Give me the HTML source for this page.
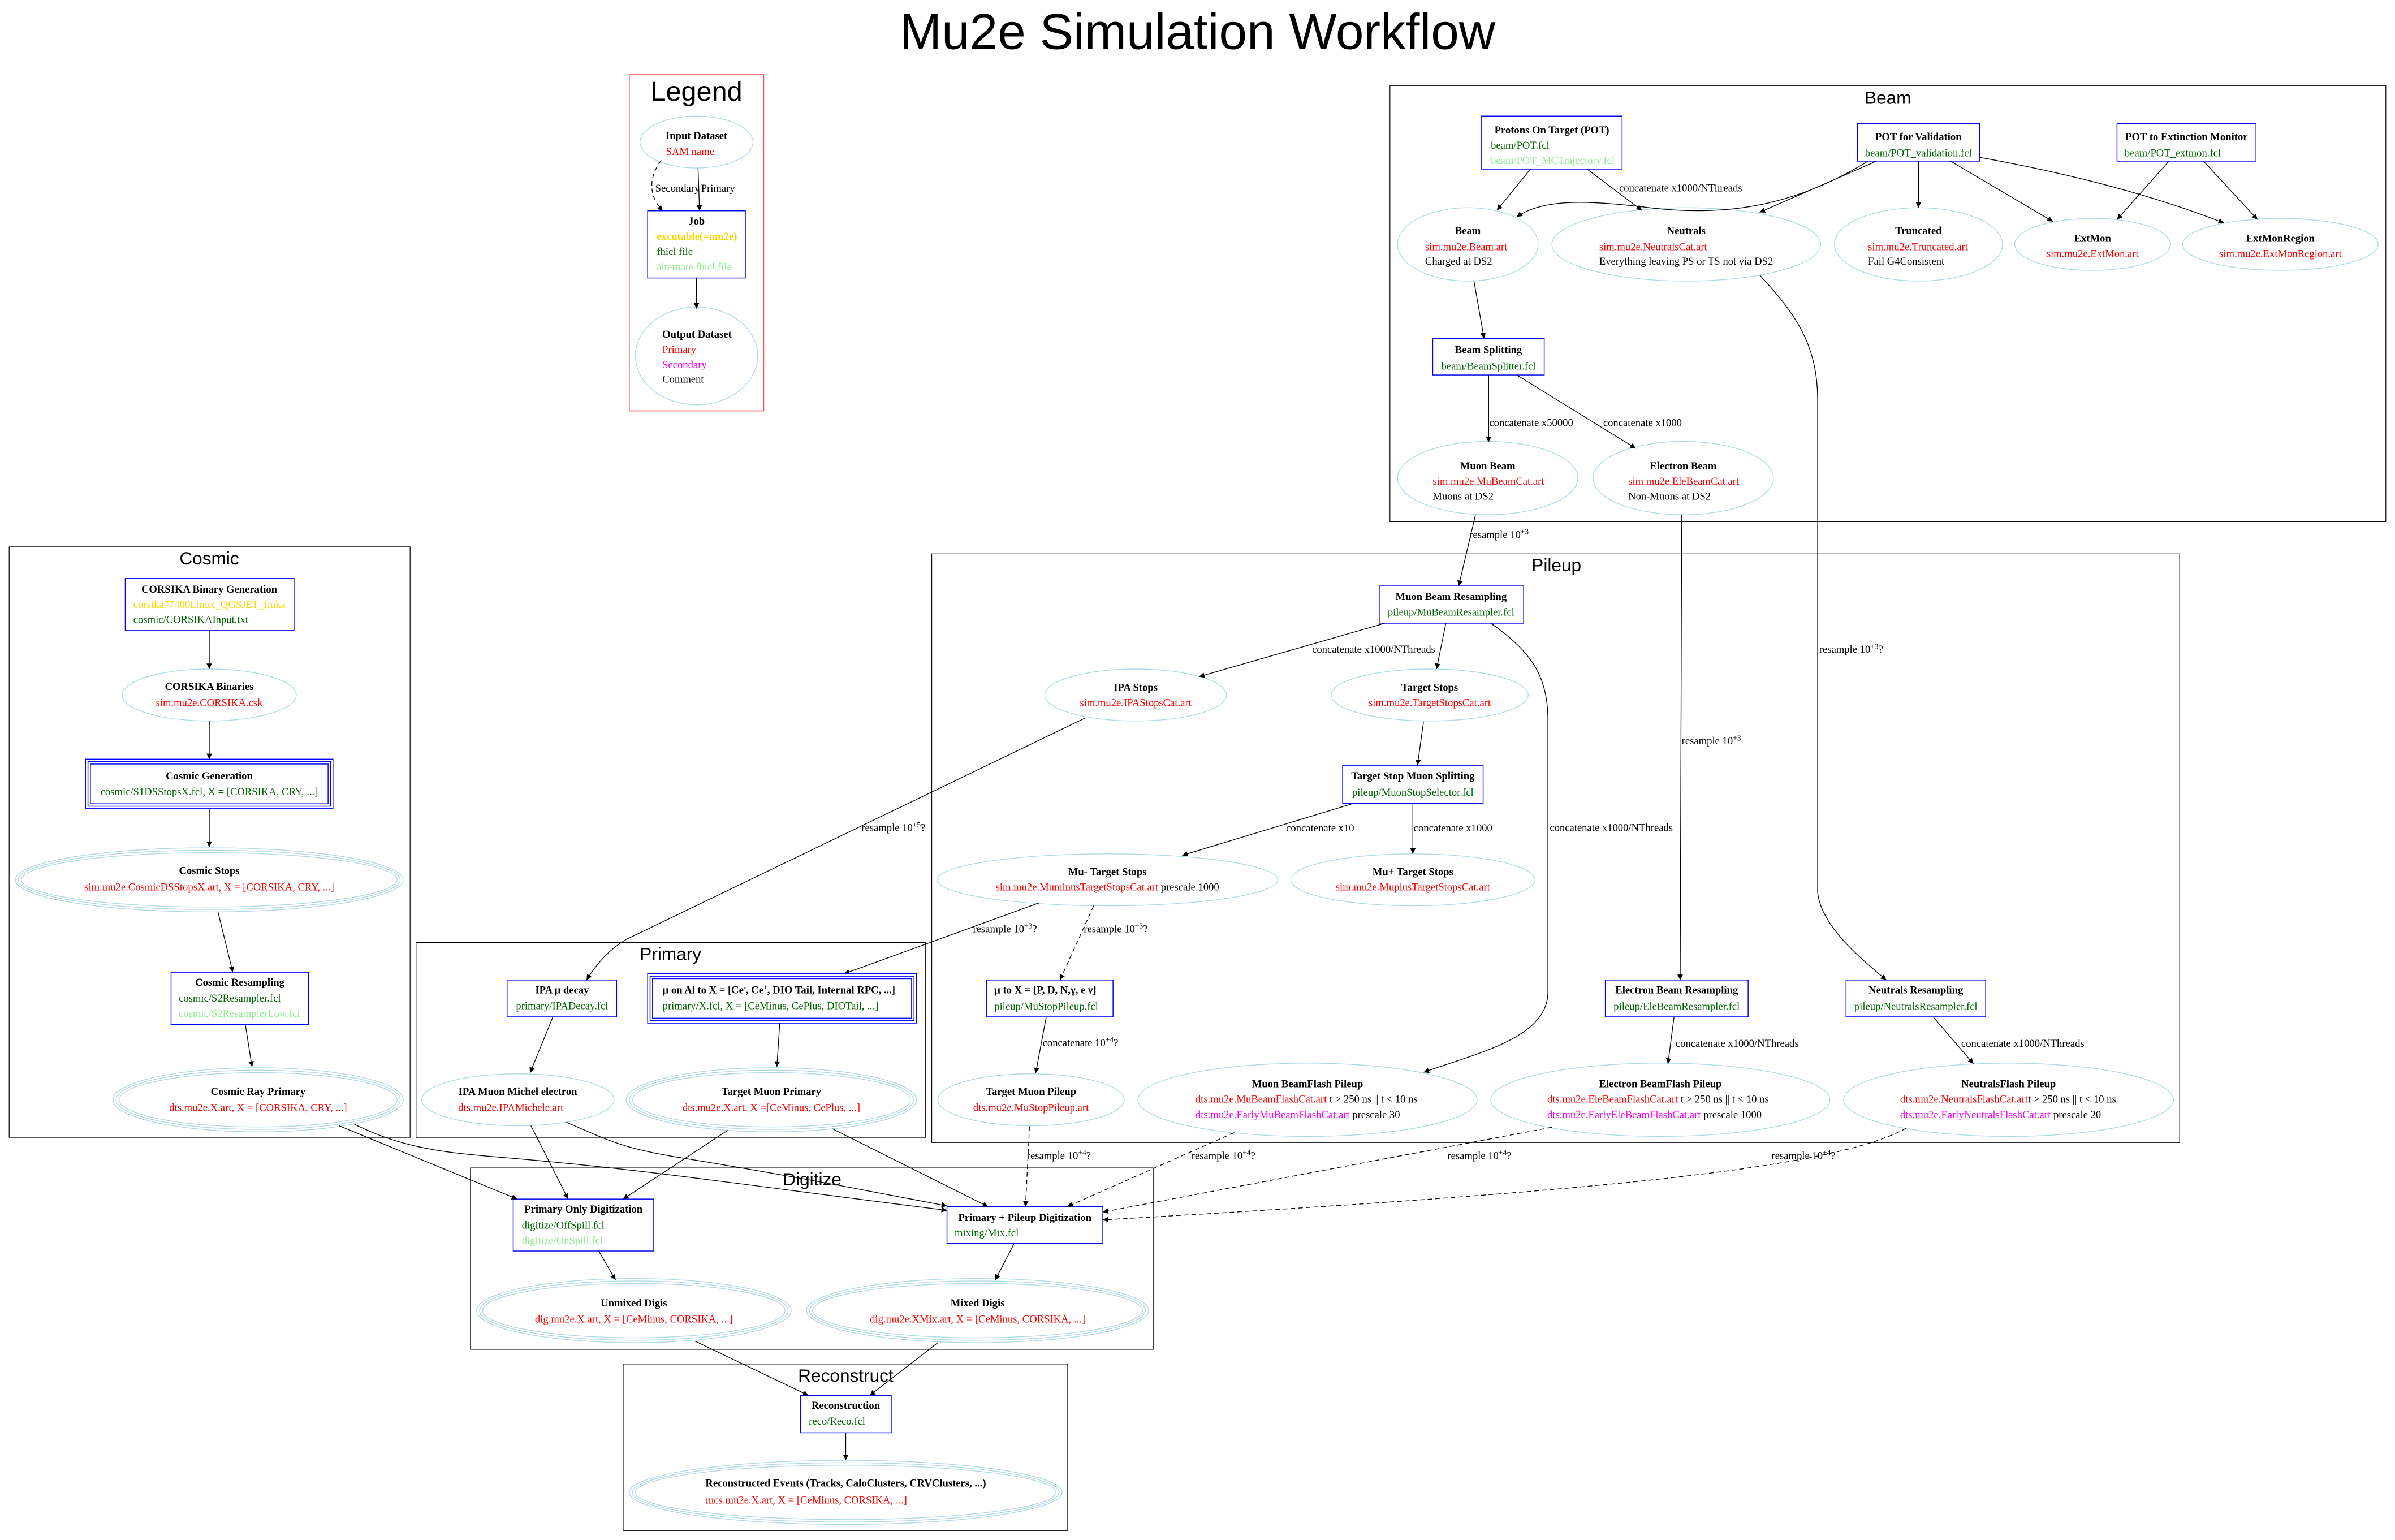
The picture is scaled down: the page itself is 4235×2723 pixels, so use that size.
<!DOCTYPE html>
<html><head><meta charset="utf-8"><style>
html,body{margin:0;padding:0;background:#fff;}
svg{display:block;}
.n{font-family:"Liberation Serif",serif;font-size:6.9px;}
.b{font-weight:bold;}
.c{text-anchor:middle;}
.r{fill:#ff0000}.g{fill:#006400}.lg{fill:#90ee90}.y{fill:#ffd700}.m{fill:#ff00ff}
.t{font-family:"Liberation Sans",sans-serif;text-anchor:middle;}
.e{fill:none;stroke:#add8e6;stroke-width:0.5}
.bx{fill:none;stroke:#0000ff;stroke-width:0.55}
.cl{fill:none;stroke:#000;stroke-width:0.45}
.l{fill:none;stroke:#000;stroke-width:0.5;marker-end:url(#a)}
.d{stroke-dasharray:3,2}
sup{font-size:5px}
</style></head><body>
<svg width="4235" height="2723" viewBox="0 0 1568 1008.2" preserveAspectRatio="none" xmlns="http://www.w3.org/2000/svg">
<defs><marker id="a" viewBox="0 0 10 10" refX="10" refY="5" markerWidth="4.5" markerHeight="3.6" markerUnits="userSpaceOnUse" orient="auto"><path d="M0,0 L10,5 L0,10z" fill="#000"/></marker></defs>
<rect width="1568" height="1008.2" fill="#fff"/>
<text class="t" x="784" y="32" font-size="33">Mu2e Simulation Workflow</text>

<!-- Legend -->
<rect x="412" y="48.5" width="88" height="220.5" fill="none" stroke="#ff5555" stroke-width="0.6"/>
<text class="t" x="456" y="66" font-size="18">Legend</text>
<ellipse class="e" cx="456" cy="93" rx="37" ry="17"/>
<text class="n b c" x="456" y="91">Input Dataset</text>
<text class="n r" x="436" y="101.5">SAM name</text>
<rect class="bx" x="424" y="138" width="64" height="44"/>
<text class="n b c" x="456" y="147">Job</text>
<text class="n b y" x="430" y="157">excutable(=mu2e)</text>
<text class="n g" x="430" y="167">fhicl file</text>
<text class="n lg" x="430" y="177">alternate fhicl file</text>
<ellipse class="e" cx="456" cy="233" rx="40" ry="32"/>
<text class="n b" x="433.6" y="221">Output Dataset</text>
<text class="n r" x="433.6" y="231">Primary</text>
<text class="n m" x="433.6" y="241">Secondary</text>
<text class="n" x="433.6" y="250.5">Comment</text>
<path class="l" d="M457,110 L458,138"/>
<path class="l d" d="M433,105 C425,115 424,128 434,138"/>
<text class="n" x="429" y="125.5">Secondary</text>
<text class="n" x="459" y="125.5">Primary</text>
<path class="l" d="M456,182 L456,202"/>

<!-- Beam cluster -->
<rect class="cl" x="910" y="56" width="652" height="285.5"/>
<text class="t" x="1236" y="68" font-size="11.7">Beam</text>
<rect class="bx" x="970" y="76" width="92" height="34.7"/>
<text class="n b c" x="1016" y="87.3">Protons On Target (POT)</text>
<text class="n g" x="976" y="97.3">beam/POT.fcl</text>
<text class="n lg" x="976" y="107.3">beam/POT_MCTrajectory.fcl</text>
<rect class="bx" x="1216" y="81" width="80" height="24.5"/>
<text class="n b c" x="1256" y="91.9">POT for Validation</text>
<text class="n g c" x="1256" y="102.3">beam/POT_validation.fcl</text>
<rect class="bx" x="1386" y="81" width="91" height="24.5"/>
<text class="n b c" x="1431.5" y="91.9">POT to Extinction Monitor</text>
<text class="n g" x="1391" y="102.3">beam/POT_extmon.fcl</text>

<ellipse class="e" cx="961" cy="160" rx="46" ry="24"/>
<text class="n b c" x="961" y="153.3">Beam</text>
<text class="n r" x="933" y="163.8">sim.mu2e.Beam.art</text>
<text class="n" x="933" y="173.3">Charged at DS2</text>
<ellipse class="e" cx="1104" cy="160" rx="88" ry="24"/>
<text class="n b c" x="1104" y="153.3">Neutrals</text>
<text class="n r" x="1047" y="163.8">sim.mu2e.NeutralsCat.art</text>
<text class="n" x="1047" y="173.3">Everything leaving PS or TS not via DS2</text>
<ellipse class="e" cx="1256" cy="160" rx="55" ry="24"/>
<text class="n b c" x="1256" y="153.3">Truncated</text>
<text class="n r" x="1223" y="163.8">sim.mu2e.Truncated.art</text>
<text class="n" x="1223" y="173.3">Fail G4Consistent</text>
<ellipse class="e" cx="1370" cy="160" rx="51" ry="17"/>
<text class="n b c" x="1370" y="158.3">ExtMon</text>
<text class="n r c" x="1370" y="168.3">sim.mu2e.ExtMon.art</text>
<ellipse class="e" cx="1493" cy="160" rx="64" ry="17"/>
<text class="n b c" x="1493" y="158.3">ExtMonRegion</text>
<text class="n r c" x="1493" y="168.3">sim.mu2e.ExtMonRegion.art</text>

<rect class="bx" x="938" y="221.5" width="73" height="24"/>
<text class="n b c" x="974.5" y="231.3">Beam Splitting</text>
<text class="n g c" x="974.5" y="241.9">beam/BeamSplitter.fcl</text>
<ellipse class="e" cx="974" cy="313" rx="59" ry="24"/>
<text class="n b c" x="974" y="307.3">Muon Beam</text>
<text class="n r" x="938" y="317.3">sim.mu2e.MuBeamCat.art</text>
<text class="n" x="938" y="327.1">Muons at DS2</text>
<ellipse class="e" cx="1102" cy="313" rx="59" ry="24"/>
<text class="n b c" x="1102" y="307.3">Electron Beam</text>
<text class="n r" x="1066" y="317.3">sim.mu2e.EleBeamCat.art</text>
<text class="n" x="1066" y="327.1">Non-Muons at DS2</text>

<path class="l" d="M1002,110.7 L980,137.7"/>
<path class="l" d="M1039,110.7 L1075,137.7"/>
<text class="n" x="1060" y="125.3">concatenate x1000/NThreads</text>
<path class="l" d="M1223,105.5 C1175,135 1130,142 1080,136 C1040,131 1010,130 993,142"/>
<path class="l" d="M1228.5,105.5 L1152,139"/>
<path class="l" d="M1256,105.5 L1256,136"/>
<path class="l" d="M1277,105.5 L1344,145"/>
<path class="l" d="M1296,103 Q1390,120 1456,146"/>
<path class="l" d="M1420,105.5 L1386,143.7"/>
<path class="l" d="M1442.6,105.5 L1478,143.7"/>
<path class="l" d="M965,184 L971.6,221.5"/>
<path class="l" d="M974.6,245.5 L974.6,289.5"/>
<text class="n" x="975" y="278.9">concatenate x50000</text>
<path class="l" d="M993,245.5 L1071,293.6"/>
<text class="n" x="1049.6" y="278.9">concatenate x1000</text>

<!-- long edges from Beam -->
<path class="l" d="M1152,180 C1175,205 1190,225 1190,262 L1190,584 C1192,605 1215,625 1235,641.6"/>
<text class="n" x="1191" y="427.3">resample 10<tspan dy="-2.5" font-size="5">+3</tspan><tspan dy="2.5">?</tspan></text>
<path class="l" d="M966,337 L955,383.6"/>
<text class="n" x="962" y="352.3">resample 10<tspan dy="-2.5" font-size="5">+3</tspan></text>
<path class="l" d="M1101,337 L1100,641.6"/>
<text class="n" x="1101" y="487.3">resample 10<tspan dy="-2.5" font-size="5">+3</tspan></text>

<!-- Pileup cluster -->
<rect class="cl" x="610" y="362.6" width="817" height="385.4"/>
<text class="t" x="1019" y="374" font-size="11.7">Pileup</text>
<rect class="bx" x="903" y="383.6" width="94.5" height="24.4"/>
<text class="n b c" x="950" y="392.8">Muon Beam Resampling</text>
<text class="n g c" x="950" y="403">pileup/MuBeamResampler.fcl</text>
<ellipse class="e" cx="743.5" cy="455" rx="59.5" ry="17"/>
<text class="n b c" x="743.5" y="452.3">IPA Stops</text>
<text class="n r c" x="743.5" y="462.3">sim.mu2e.IPAStopsCat.art</text>
<ellipse class="e" cx="936" cy="455" rx="64.5" ry="17"/>
<text class="n b c" x="936" y="452.3">Target Stops</text>
<text class="n r c" x="936" y="462.3">sim.mu2e.TargetStopsCat.art</text>
<rect class="bx" x="879" y="501" width="92" height="25"/>
<text class="n b c" x="925" y="510.3">Target Stop Muon Splitting</text>
<text class="n g c" x="925" y="520.9">pileup/MuonStopSelector.fcl</text>
<ellipse class="e" cx="725" cy="576" rx="111.5" ry="17"/>
<text class="n b c" x="725" y="572.9">Mu- Target Stops</text>
<text class="n c" x="725" y="582.9"><tspan class="r">sim.mu2e.MuminusTargetStopsCat.art</tspan> prescale 1000</text>
<ellipse class="e" cx="925" cy="576" rx="80" ry="17"/>
<text class="n b c" x="925" y="572.9">Mu+ Target Stops</text>
<text class="n r c" x="925" y="582.9">sim.mu2e.MuplusTargetStopsCat.art</text>
<rect class="bx" x="646" y="641.6" width="82.7" height="24.1"/>
<text class="n b" x="651" y="650.3">μ to X = [P, D, N,γ, e ν]</text>
<text class="n g" x="651" y="661.1">pileup/MuStopPileup.fcl</text>
<rect class="bx" x="1051" y="641.6" width="93.5" height="24.1"/>
<text class="n b c" x="1097.7" y="650.3">Electron Beam Resampling</text>
<text class="n g c" x="1097.7" y="661.1">pileup/EleBeamResampler.fcl</text>
<rect class="bx" x="1208.6" y="641.6" width="91.4" height="24.1"/>
<text class="n b c" x="1254.3" y="650.3">Neutrals Resampling</text>
<text class="n g c" x="1254.3" y="661.1">pileup/NeutralsResampler.fcl</text>
<ellipse class="e" cx="675" cy="720" rx="61" ry="17"/>
<text class="n b c" x="675" y="716.9">Target Muon Pileup</text>
<text class="n r c" x="675" y="727.3">dts.mu2e.MuStopPileup.art</text>
<ellipse class="e" cx="856" cy="720" rx="111" ry="24"/>
<text class="n b c" x="856" y="711.9">Muon BeamFlash Pileup</text>
<text class="n" x="782.7" y="721.9"><tspan class="r">dts.mu2e.MuBeamFlashCat.art</tspan> t &gt; 250 ns || t &lt; 10 ns</text>
<text class="n" x="782.7" y="731.9"><tspan class="m">dts.mu2e.EarlyMuBeamFlashCat.art</tspan> prescale 30</text>
<ellipse class="e" cx="1087" cy="720" rx="111" ry="24"/>
<text class="n b c" x="1087" y="711.9">Electron BeamFlash Pileup</text>
<text class="n" x="1013" y="721.9"><tspan class="r">dts.mu2e.EleBeamFlashCat.art</tspan> t &gt; 250 ns || t &lt; 10 ns</text>
<text class="n" x="1013" y="731.9"><tspan class="m">dts.mu2e.EarlyEleBeamFlashCat.art</tspan> prescale 1000</text>
<ellipse class="e" cx="1315" cy="720" rx="108" ry="24"/>
<text class="n b c" x="1315" y="711.9">NeutralsFlash Pileup</text>
<text class="n" x="1244" y="721.9"><tspan class="r">dts.mu2e.NeutralsFlashCat.art</tspan>t &gt; 250 ns || t &lt; 10 ns</text>
<text class="n" x="1244" y="731.9"><tspan class="m">dts.mu2e.EarlyNeutralsFlashCat.art</tspan> prescale 20</text>

<path class="l" d="M906.7,408 L785,443"/>
<text class="n" x="859" y="427.3">concatenate x1000/NThreads</text>
<path class="l" d="M946.6,408 L940.5,438"/>
<path class="l" d="M976,408 C1000,425 1013,440 1013.4,470 L1013.4,650 C1013,680 965,690 932,702"/>
<text class="n" x="1014.6" y="544.1">concatenate x1000/NThreads</text>
<path class="l" d="M932,472.4 L928,501"/>
<path class="l" d="M886,526 L774,560"/>
<text class="n" x="842" y="544.3">concatenate x10</text>
<path class="l" d="M925,526 L925,559"/>
<text class="n" x="925.5" y="544.3">concatenate x1000</text>
<path class="l d" d="M716,593 L694,641.6"/>
<text class="n" x="709.5" y="610.3">resample 10<tspan dy="-2.5" font-size="5">+3</tspan><tspan dy="2.5">?</tspan></text>
<path class="l" d="M680.5,591 L552.6,637.5"/>
<text class="n" x="637" y="610.3">resample 10<tspan dy="-2.5" font-size="5">+3</tspan><tspan dy="2.5">?</tspan></text>
<path class="l" d="M685,665.7 L678,702.7"/>
<text class="n" x="682.6" y="684.9">concatenate 10<tspan dy="-2.5" font-size="5">+4</tspan><tspan dy="2.5">?</tspan></text>
<path class="l" d="M1096,665.7 L1092,696.5"/>
<text class="n" x="1097" y="685.3">concatenate x1000/NThreads</text>
<path class="l" d="M1265.6,665.7 L1292,696.5"/>
<text class="n" x="1284" y="685.3">concatenate x1000/NThreads</text>
<path class="l" d="M710.6,470 L410,615 C398,622 390,632 384,641.6"/>
<text class="n" x="564" y="544.1">resample 10<tspan dy="-2.5" font-size="5">+5</tspan><tspan dy="2.5">?</tspan></text>

<!-- Cosmic cluster -->
<rect class="cl" x="6" y="358" width="262.5" height="386.6"/>
<text class="t" x="137" y="369.6" font-size="11.7">Cosmic</text>
<rect class="bx" x="82" y="378.7" width="110.5" height="34.1"/>
<text class="n b c" x="137" y="388">CORSIKA Binary Generation</text>
<text class="n y" x="87.3" y="398.1">corsika77400Linux_QGSJET_fluka</text>
<text class="n g" x="87.3" y="407.8">cosmic/CORSIKAInput.txt</text>
<ellipse class="e" cx="137" cy="455" rx="57" ry="17"/>
<text class="n b c" x="137" y="451.7">CORSIKA Binaries</text>
<text class="n r c" x="137" y="462.3">sim.mu2e.CORSIKA.csk</text>
<rect class="bx" x="56" y="497" width="162" height="32.4"/>
<rect class="bx" x="57.6" y="498.6" width="158.8" height="29.2"/>
<rect class="bx" x="59.2" y="500.2" width="155.6" height="26"/>
<text class="n b c" x="137" y="510.3">Cosmic Generation</text>
<text class="n g c" x="137" y="520.5">cosmic/S1DSStopsX.fcl, X = [CORSIKA, CRY, ...]</text>
<ellipse class="e" cx="137" cy="576" rx="127" ry="21"/>
<ellipse class="e" cx="137" cy="576" rx="125" ry="19.4"/>
<ellipse class="e" cx="137" cy="576" rx="123" ry="17.8"/>
<text class="n b c" x="137" y="572.3">Cosmic Stops</text>
<text class="n r c" x="137" y="583">sim.mu2e.CosmicDSStopsX.art, X = [CORSIKA, CRY, ...]</text>
<rect class="bx" x="112" y="636.5" width="90" height="34.2"/>
<text class="n b c" x="157" y="645.3">Cosmic Resampling</text>
<text class="n g" x="117" y="655.8">cosmic/S2Resampler.fcl</text>
<text class="n lg" x="117" y="665.8">cosmic/S2ResamplerLow.fcl</text>
<ellipse class="e" cx="169" cy="720" rx="95" ry="21"/>
<ellipse class="e" cx="169" cy="720" rx="93" ry="19.4"/>
<ellipse class="e" cx="169" cy="720" rx="91" ry="17.8"/>
<text class="n b c" x="169" y="716.9">Cosmic Ray Primary</text>
<text class="n r c" x="169" y="727.3">dts.mu2e.X.art, X = [CORSIKA, CRY, ...]</text>
<path class="l" d="M137,412.8 L137,438"/>
<path class="l" d="M137,472 L137,497"/>
<path class="l" d="M137,529.4 L137,554.5"/>
<path class="l" d="M142.7,597 L152.4,636.5"/>
<path class="l" d="M160.6,670.7 L165,698.5"/>

<!-- Primary cluster -->
<rect class="cl" x="272.4" y="617" width="333.6" height="127.6"/>
<text class="t" x="439" y="628.5" font-size="11.7">Primary</text>
<rect class="bx" x="332" y="641.6" width="71.7" height="24.1"/>
<text class="n b c" x="368" y="650.3">IPA μ decay</text>
<text class="n g c" x="368" y="660.8">primary/IPADecay.fcl</text>
<rect class="bx" x="424" y="637.5" width="176" height="32.3"/>
<rect class="bx" x="425.6" y="639.1" width="172.8" height="29.1"/>
<rect class="bx" x="427.2" y="640.7" width="169.6" height="25.9"/>
<text class="n b" x="433.8" y="650.3">μ on Al to X = [Ce<tspan dy="-2.3" font-size="4.5">-</tspan><tspan dy="2.3">, Ce</tspan><tspan dy="-2.3" font-size="4.5">+</tspan><tspan dy="2.3">, DIO Tail, Internal RPC, ...]</tspan></text>
<text class="n g" x="433.8" y="660.8">primary/X.fcl, X = [CeMinus, CePlus, DIOTail, ...]</text>
<ellipse class="e" cx="339" cy="720" rx="63" ry="17"/>
<text class="n b c" x="339" y="716.9">IPA Muon Michel electron</text>
<text class="n r" x="300" y="727.3">dts.mu2e.IPAMichele.art</text>
<ellipse class="e" cx="505" cy="720" rx="95" ry="21"/>
<ellipse class="e" cx="505" cy="720" rx="93" ry="19.4"/>
<ellipse class="e" cx="505" cy="720" rx="91" ry="17.8"/>
<text class="n b c" x="505" y="716.9">Target Muon Primary</text>
<text class="n r c" x="505" y="727.3">dts.mu2e.X.art, X =[CeMinus, CePlus, ...]</text>
<path class="l" d="M362,665.7 L347,702.4"/>
<path class="l" d="M510.5,669.8 L508.6,698.5"/>

<!-- Digitize cluster -->
<rect class="cl" x="308" y="764.6" width="447" height="118.8"/>
<text class="t" x="531.7" y="776" font-size="11.7">Digitize</text>
<rect class="bx" x="336" y="785" width="92" height="34"/>
<text class="n b c" x="382" y="793.9">Primary Only Digitization</text>
<text class="n g" x="341.6" y="804.3">digitize/OffSpill.fcl</text>
<text class="n lg" x="341.6" y="814.3">digitize/OnSpill.fcl</text>
<rect class="bx" x="620" y="790" width="102" height="24"/>
<text class="n b c" x="671" y="799.3">Primary + Pileup Digitization</text>
<text class="n g" x="625" y="809.3">mixing/Mix.fcl</text>
<ellipse class="e" cx="415" cy="858" rx="103" ry="21"/>
<ellipse class="e" cx="415" cy="858" rx="101" ry="19.4"/>
<ellipse class="e" cx="415" cy="858" rx="99" ry="17.8"/>
<text class="n b c" x="415" y="855.3">Unmixed Digis</text>
<text class="n r c" x="415" y="865.8">dig.mu2e.X.art, X = [CeMinus, CORSIKA, ...]</text>
<ellipse class="e" cx="640" cy="858" rx="112" ry="21"/>
<ellipse class="e" cx="640" cy="858" rx="110" ry="19.4"/>
<ellipse class="e" cx="640" cy="858" rx="108" ry="17.8"/>
<text class="n b c" x="640" y="855.3">Mixed Digis</text>
<text class="n r c" x="640" y="865.8">dig.mu2e.XMix.art, X = [CeMinus, CORSIKA, ...]</text>
<path class="l" d="M392,819 L403,838"/>
<path class="l" d="M664,814 L651.6,838"/>

<!-- incoming to digitize -->
<path class="l" d="M222,737 L338.6,785"/>
<path class="l" d="M232,736 C260,750 285,754 320,757 C420,765 480,775 620,792.4"/>
<path class="l" d="M347.6,737 L372,785"/>
<path class="l" d="M370.8,734.7 C395,745 405,751 440,757 C520,770 570,780 620,789.5"/>
<path class="l" d="M476.4,740 L408,785"/>
<path class="l" d="M545,739 L647,790"/>
<path class="l d" d="M674,737.4 L671.4,790"/>
<text class="n" x="672.3" y="758.8">resample 10<tspan dy="-2.5" font-size="5">+4</tspan><tspan dy="2.5">?</tspan></text>
<path class="l d" d="M808,741.5 L698.7,790"/>
<text class="n" x="780" y="758.8">resample 10<tspan dy="-2.5" font-size="5">+4</tspan><tspan dy="2.5">?</tspan></text>
<path class="l d" d="M1016,738 L722,793.5"/>
<text class="n" x="947.6" y="758.8">resample 10<tspan dy="-2.5" font-size="5">+4</tspan><tspan dy="2.5">?</tspan></text>
<path class="l d" d="M1248,738.6 C1200,765 1050,780 722,798.6"/>
<text class="n" x="1159.8" y="758.8">resample 10<tspan dy="-2.5" font-size="5">+4</tspan><tspan dy="2.5">?</tspan></text>

<!-- Reconstruct cluster -->
<rect class="cl" x="408" y="893" width="291" height="109"/>
<text class="t" x="553.7" y="904.6" font-size="11.7">Reconstruct</text>
<rect class="bx" x="524" y="913.6" width="59.5" height="24.4"/>
<text class="n b c" x="553.7" y="922.3">Reconstruction</text>
<text class="n g" x="529.5" y="932.7">reco/Reco.fcl</text>
<ellipse class="e" cx="553.7" cy="977" rx="141.7" ry="21"/>
<ellipse class="e" cx="553.7" cy="977" rx="139.7" ry="19.4"/>
<ellipse class="e" cx="553.7" cy="977" rx="137.7" ry="17.8"/>
<text class="n b c" x="553.7" y="973.3">Reconstructed Events (Tracks, CaloClusters, CRVClusters, ...)</text>
<text class="n r" x="462" y="984.3">mcs.mu2e.X.art, X = [CeMinus, CORSIKA, ...]</text>
<path class="l" d="M455,878 L529.4,913.6"/>
<path class="l" d="M614,879 L569.4,913.6"/>
<path class="l" d="M553.7,938 L553.7,956"/>
</svg>
</body></html>
